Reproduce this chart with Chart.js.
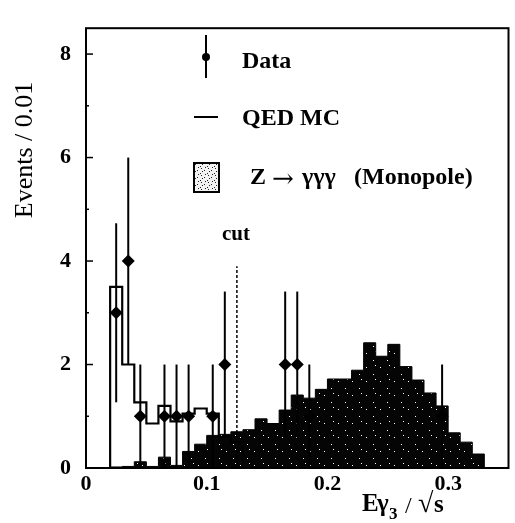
<!DOCTYPE html>
<html>
<head>
<meta charset="utf-8">
<script src="https://cdn.jsdelivr.net/npm/chart.js@4.4.1/dist/chart.umd.min.js"></script>
<style>
  html, body { margin: 0; padding: 0; background: #fff; }
</style>
</head>
<body>
<canvas id="chart" width="515" height="523"></canvas>
<script>
// Histogramas: anchura de bin 0.01
const binWidth = 0.01;
const qedStart = 0.02;
const qedValues = [3.5, 2.0, 1.27, 0.86, 1.2, 0.9, 1.05, 1.15, 1.05, 0.6, 0.5];
const monoStart = 0.02;
const monoValues = [0.02, 0.03, 0.12, 0.03, 0.21, 0.05, 0.32, 0.46, 0.63, 0.65, 0.7, 0.74,
  0.95, 0.86, 1.12, 1.41, 1.35, 1.52, 1.72, 1.72, 1.89, 2.42, 2.16, 2.39, 1.96, 1.7,
  1.45, 1.2, 0.68, 0.5, 0.27];

// Datos (centro del bin, eventos, error)
const dataX = [0.025, 0.035, 0.045, 0.065, 0.075, 0.085, 0.105, 0.115, 0.165, 0.175, 0.185, 0.295];
const dataY = [3, 4, 1, 1, 1, 1, 1, 2, 2, 2, 1, 1];
const dataErr = [1.73, 2.0, 1.0, 1.0, 1.0, 1.0, 1.0, 1.41, 1.41, 1.41, 1.0, 1.0];

// Corte
const cutX = 0.125;
const cutTop = 3.9;

// Ejes
const xTicks = [0, 0.1, 0.2, 0.3];
const xTickLabels = ["0", "0.1", "0.2", "0.3"];
const yTicks = [0, 2, 4, 6, 8];
const yTickLabels = ["0", "2", "4", "6", "8"];

const SERIF = '"Liberation Serif", "Times New Roman", serif';

// convierte bins en puntos para una línea escalonada
function histPoints(start, values) {
  const pts = [{ x: start, y: 0 }];
  values.forEach((v, i) => pts.push({ x: +(start + i * binWidth).toFixed(4), y: v }));
  const end = +(start + values.length * binWidth).toFixed(4);
  pts.push({ x: end, y: values[values.length - 1] });
  pts.push({ x: end, y: 0 });
  return pts;
}

// patrón punteado
function makePattern(bg, fg, size, dots) {
  const c = document.createElement("canvas");
  c.width = size; c.height = size;
  const g = c.getContext("2d");
  g.fillStyle = bg;
  g.fillRect(0, 0, size, size);
  g.fillStyle = fg;
  dots.forEach(([px, py]) => g.fillRect(px, py, 1, 1));
  return g.createPattern(c, "repeat");
}
const ctx = document.getElementById("chart").getContext("2d");
const darkStipple = makePattern("#050505", "#ffffff", 14, [[2, 3], [9, 10], [11, 1]]);
const lightStipple = makePattern("#f2f2f2", "#222", 7, [[1, 2], [5, 0], [4, 5], [2, 6], [6, 3]]);

const decorPlugin = {
  id: "decor",
  afterDatasetsDraw(chart) {
    const { ctx, scales: { x, y } } = chart;
    ctx.save();
    // barras de error
    ctx.strokeStyle = "#000";
    ctx.lineWidth = 2;
    dataX.forEach((xv, i) => {
      const px = x.getPixelForValue(xv);
      ctx.beginPath();
      ctx.moveTo(px, y.getPixelForValue(Math.max(0, dataY[i] - dataErr[i])));
      ctx.lineTo(px, y.getPixelForValue(dataY[i] + dataErr[i]));
      ctx.stroke();
    });
    ctx.restore();
  },
  afterDraw(chart) {
    const { ctx, chartArea: a, scales: { x, y } } = chart;
    ctx.save();
    // marco
    ctx.strokeStyle = "#000";
    ctx.lineWidth = 2;
    ctx.strokeRect(a.left, a.top, a.right - a.left, a.bottom - a.top);
    // marcas hacia dentro en el eje y
    ctx.lineWidth = 1.5;
    for (let v = 1; v <= 8; v++) {
      const py = y.getPixelForValue(v);
      const len = v % 2 === 0 ? 7 : 3;
      ctx.beginPath();
      ctx.moveTo(a.left, py);
      ctx.lineTo(a.left + len, py);
      ctx.stroke();
    }

    // texto "cut"
    ctx.fillStyle = "#000";
    ctx.font = "bold 21px " + SERIF;
    ctx.textAlign = "center";
    ctx.textBaseline = "middle";
    ctx.fillText("cut", x.getPixelForValue(cutX) - 1, 235);

    // título eje y
    ctx.save();
    ctx.translate(25, 150);
    ctx.rotate(-Math.PI / 2);
    ctx.font = "26px " + SERIF;
    ctx.fillText("Events / 0.01", 0, 0);
    ctx.restore();

    // título eje x: E γ3 / √s
    ctx.textAlign = "left";
    ctx.textBaseline = "alphabetic";
    ctx.font = "bold 25px " + SERIF;
    ctx.fillText("E", 362, 511);
    ctx.fillText("\u03b3", 377, 511);
    ctx.font = "bold 17px " + SERIF;
    ctx.fillText("3", 389, 519);
    ctx.font = "24px " + SERIF;
    ctx.fillText("/", 405, 513);
    ctx.font = "bold 28px " + SERIF;
    ctx.fillText("\u221a", 418, 512);
    ctx.font = "bold 25px " + SERIF;
    ctx.fillText("s", 434, 512);

    // leyenda
    ctx.lineWidth = 2;
    ctx.beginPath();
    ctx.moveTo(206, 35);
    ctx.lineTo(206, 78);
    ctx.stroke();
    ctx.beginPath();
    ctx.arc(206, 57, 4, 0, Math.PI * 2);
    ctx.fill();
    ctx.beginPath();
    ctx.moveTo(194, 117);
    ctx.lineTo(218, 117);
    ctx.stroke();
    ctx.fillStyle = lightStipple;
    ctx.fillRect(194, 163, 25, 29);
    ctx.strokeRect(194, 163, 25, 29);

    ctx.fillStyle = "#000";
    ctx.font = "bold 24px " + SERIF;
    ctx.textBaseline = "alphabetic";
    ctx.fillText("Data", 242, 68);
    ctx.fillText("QED MC", 242, 125);
    ctx.fillText("Z", 250, 184);
    ctx.font = '26px "DejaVu Serif", serif';
    ctx.fillText("\u2192", 272, 187);
    ctx.font = "bold 24px " + SERIF;
    ctx.fillText("\u03b3\u03b3\u03b3", 302, 184);
    ctx.fillText("(Monopole)", 354, 184);
    ctx.restore();
  },
};

new Chart(ctx, {
  type: "line",
  data: {
    datasets: [
      {
        label: "Data",
        data: dataX.map((xv, i) => ({ x: xv, y: dataY[i] })),
        showLine: false,
        pointStyle: "rectRot",
        pointRadius: 6.5,
        pointBackgroundColor: "#000",
        pointBorderColor: "#000",
        pointBorderWidth: 0,
        order: 0,
      },
      {
        label: "QED MC",
        data: histPoints(qedStart, qedValues),
        stepped: "before",
        borderColor: "#000",
        borderWidth: 2.2,
        pointRadius: 0,
        fill: false,
        order: 1,
      },
      {
        label: "cut",
        data: [{ x: cutX, y: 0 }, { x: cutX, y: cutTop }],
        borderColor: "#000",
        borderWidth: 1.5,
        borderDash: [3, 2],
        pointRadius: 0,
        fill: false,
        order: 2,
      },
      {
        label: "Z -> ggg (Monopole)",
        data: histPoints(monoStart, monoValues),
        stepped: "before",
        borderColor: "#000",
        borderWidth: 1,
        backgroundColor: darkStipple,
        pointRadius: 0,
        fill: "origin",
        order: 3,
      },
    ],
  },
  options: {
    responsive: false,
    animation: false,
    devicePixelRatio: 1,
    layout: { padding: { top: 7, right: 3, left: 0, bottom: 0 } },
    plugins: {
      legend: { display: false },
      tooltip: { enabled: false },
    },
    scales: {
      x: {
        type: "linear",
        min: 0,
        max: 0.35,
        afterFit: (s) => { s.height = 55; },
        afterBuildTicks: (s) => { s.ticks = xTicks.map((v) => ({ value: v })); },
        grid: { display: false, drawTicks: false },
        border: { display: false },
        ticks: {
          autoSkip: false,
          maxRotation: 0,
          padding: 3,
          color: "#000",
          font: { family: SERIF, size: 22, weight: "bold" },
          callback: (v) => xTickLabels[xTicks.indexOf(v)] ?? "",
        },
      },
      y: {
        min: 0,
        max: 8.5,
        afterFit: (s) => { s.width = 86; },
        afterBuildTicks: (s) => { s.ticks = yTicks.map((v) => ({ value: v })); },
        grid: { display: false, drawTicks: false },
        border: { display: false },
        ticks: {
          padding: 15,
          color: "#000",
          font: { family: SERIF, size: 22, weight: "bold" },
          callback: (v) => yTickLabels[yTicks.indexOf(v)] ?? "",
        },
      },
    },
  },
  plugins: [decorPlugin],
});
</script>
</body>
</html>
